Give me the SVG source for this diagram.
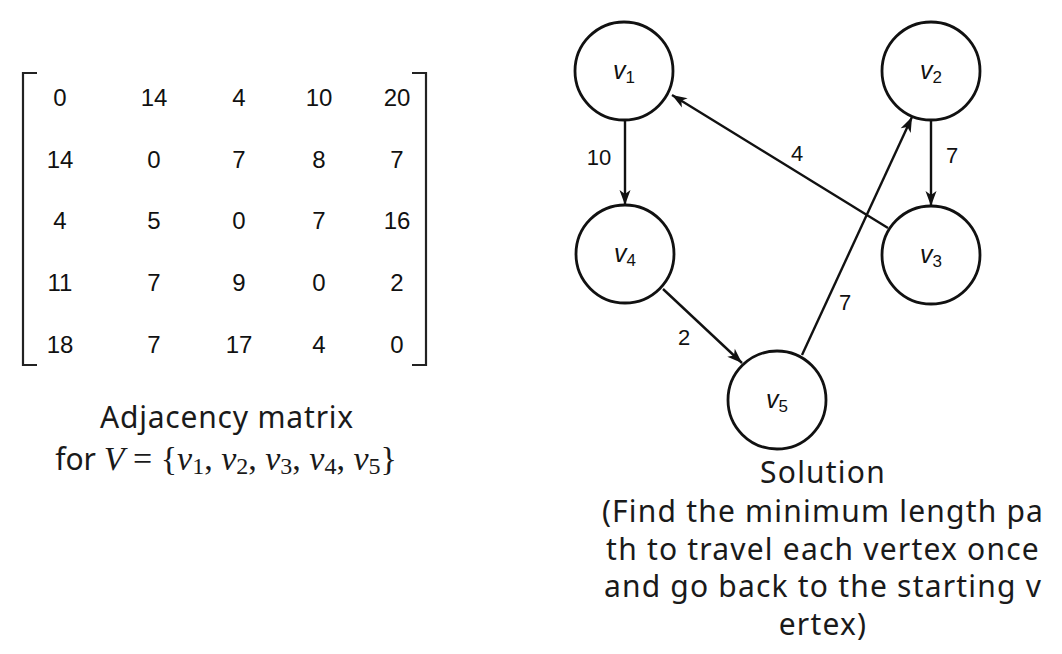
<svg xmlns="http://www.w3.org/2000/svg" width="1062" height="654" viewBox="0 0 1062 654">
<style>
.m{font-family:"Liberation Sans",Arial,sans-serif;font-size:24px;fill:#111;text-anchor:middle}
.br{fill:none;stroke:#222;stroke-width:2.2}
.cap{font-family:"Noto Sans","Open Sans",sans-serif;font-size:30px;fill:#1a1a1a;text-anchor:middle}
.sol{letter-spacing:1.2px}
.mi{font-family:"Liberation Serif","DejaVu Serif",serif;font-style:italic;font-size:34px}
.mr{font-family:"Liberation Serif","DejaVu Serif",serif;font-size:34px}
.ms{font-family:"Liberation Serif","DejaVu Serif",serif;font-size:24px}
.node{fill:#fff;stroke:#111;stroke-width:2.8}
.nl{font-family:"Liberation Sans",Arial,sans-serif;font-size:25px;font-style:italic;fill:#111;text-anchor:middle}
.sub{font-size:17px;font-style:normal}
.edge{fill:none;stroke:#111;stroke-width:2.4}
.el{font-family:"Liberation Sans",Arial,sans-serif;font-size:22px;fill:#111;text-anchor:middle}
</style>
<defs>
<marker id="ah" markerUnits="userSpaceOnUse" viewBox="-16 -7 18 14" refX="0" refY="0" markerWidth="18" markerHeight="14" orient="auto">
<path d="M0,0 L-15,-5.5 L-11,0 L-15,5.5 Z" fill="#111"/>
</marker>
</defs>
<g id="matrix">
<path class="br" d="M37,73 H23 V365 H37"/>
<path class="br" d="M412,73 H426 V365 H412"/>
<g class="m">
<text x="60" y="106">0</text><text x="154" y="106">14</text><text x="239" y="106">4</text><text x="319" y="106">10</text><text x="397" y="106">20</text>
<text x="60" y="168">14</text><text x="154" y="168">0</text><text x="239" y="168">7</text><text x="319" y="168">8</text><text x="397" y="168">7</text>
<text x="60" y="229">4</text><text x="154" y="229">5</text><text x="239" y="229">0</text><text x="319" y="229">7</text><text x="397" y="229">16</text>
<text x="60" y="291">11</text><text x="154" y="291">7</text><text x="239" y="291">9</text><text x="319" y="291">0</text><text x="397" y="291">2</text>
<text x="60" y="353">18</text><text x="154" y="353">7</text><text x="239" y="353">17</text><text x="319" y="353">4</text><text x="397" y="353">0</text>
</g>
</g>
<g id="matrix-caption">
<text class="cap" x="227" y="428" letter-spacing="0.8">Adjacency matrix</text>
<text class="cap" x="226" y="470">for <tspan class="mi">V</tspan><tspan class="mr"> = {</tspan><tspan class="mi">v</tspan><tspan class="ms" dy="4">1</tspan><tspan class="mr" dy="-4">, </tspan><tspan class="mi">v</tspan><tspan class="ms" dy="4">2</tspan><tspan class="mr" dy="-4">, </tspan><tspan class="mi">v</tspan><tspan class="ms" dy="4">3</tspan><tspan class="mr" dy="-4">, </tspan><tspan class="mi">v</tspan><tspan class="ms" dy="4">4</tspan><tspan class="mr" dy="-4">, </tspan><tspan class="mi">v</tspan><tspan class="ms" dy="4">5</tspan><tspan class="mr" dy="-4">}</tspan></text>
</g>
<g id="connectors">
<line class="edge" x1="625" y1="120" x2="625" y2="205" marker-end="url(#ah)"/>
<line class="edge" x1="931" y1="120" x2="931" y2="206" marker-end="url(#ah)"/>
<line class="edge" x1="888" y1="228" x2="672" y2="95" marker-end="url(#ah)"/>
<line class="edge" x1="802" y1="355" x2="912" y2="117" marker-end="url(#ah)"/>
<line class="edge" x1="663" y1="289" x2="742" y2="363" marker-end="url(#ah)"/>
<text class="el" x="599" y="165">10</text>
<text class="el" x="797" y="161">4</text>
<text class="el" x="952" y="163">7</text>
<text class="el" x="845" y="310">7</text>
<text class="el" x="684" y="345">2</text>
</g>
<g id="v1"><circle class="node" cx="624" cy="71" r="49"/><text class="nl" x="624" y="79">v<tspan class="sub" dy="4">1</tspan></text></g>
<g id="v2"><circle class="node" cx="931" cy="71" r="49"/><text class="nl" x="931" y="79">v<tspan class="sub" dy="4">2</tspan></text></g>
<g id="v3"><circle class="node" cx="931" cy="255" r="49"/><text class="nl" x="931" y="263">v<tspan class="sub" dy="4">3</tspan></text></g>
<g id="v4"><circle class="node" cx="625" cy="254" r="49"/><text class="nl" x="625" y="262">v<tspan class="sub" dy="4">4</tspan></text></g>
<g id="v5"><circle class="node" cx="777" cy="400" r="49"/><text class="nl" x="777" y="408">v<tspan class="sub" dy="4">5</tspan></text></g>
<g id="solution-caption" class="cap sol">
<text x="823" y="483">Solution</text>
<text x="823" y="522">(Find the minimum length pa</text>
<text x="823" y="560">th to travel each vertex once</text>
<text x="823" y="597">and go back to the starting v</text>
<text x="823" y="635">ertex)</text>
</g>
</svg>
